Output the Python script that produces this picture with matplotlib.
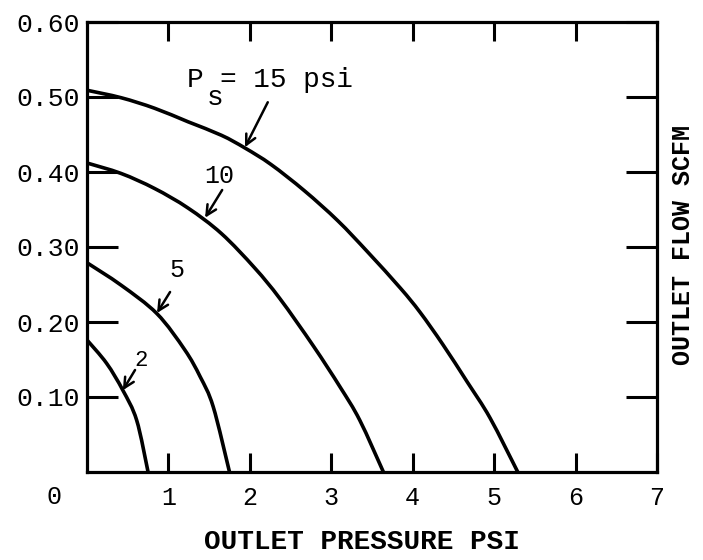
import matplotlib
matplotlib.use("Agg")
import matplotlib.pyplot as plt
from matplotlib.path import Path
from matplotlib.patches import PathPatch

# Outlet flow vs outlet pressure for several supply pressures
p15 = [0, 0.42, 0.83, 1.24, 1.65, 1.94, 2.26, 2.67, 3.08, 3.45, 3.85, 4.09, 4.37, 4.67, 4.95, 5.29]
q15 = [0.509, 0.499, 0.485, 0.467, 0.449, 0.432, 0.410, 0.375, 0.335, 0.293, 0.245, 0.213, 0.170, 0.120, 0.072, 0.0]

p10 = [0, 0.42, 0.83, 1.24, 1.65, 2.06, 2.37, 2.78, 3.11, 3.35, 3.64]
q10 = [0.412, 0.398, 0.378, 0.352, 0.318, 0.272, 0.231, 0.168, 0.113, 0.069, 0.0]

p5 = [0, 0.42, 0.86, 1.20, 1.39, 1.55, 1.75]
q5 = [0.279, 0.249, 0.211, 0.163, 0.127, 0.087, 0.0]

p2 = [0, 0.24, 0.44, 0.61, 0.75]
q2 = [0.176, 0.145, 0.109, 0.069, 0.0]

x_ticks = [1, 2, 3, 4, 5, 6, 7]
x_ticklabels = ["1", "2", "3", "4", "5", "6", "7"]
y_ticks = [0.10, 0.20, 0.30, 0.40, 0.50, 0.60]
y_ticklabels = ["0.10", "0.20", "0.30", "0.40", "0.50", "0.60"]

FONT = "Liberation Mono"
plt.rcParams["font.family"] = FONT


def smooth_path(xs, ys):
    """Catmull-Rom curve through the given points, as cubic Bezier segments."""
    pts = list(zip(xs, ys))
    n = len(pts)
    verts = [pts[0]]
    codes = [Path.MOVETO]
    for i in range(n - 1):
        p0 = pts[i - 1] if i > 0 else pts[i]
        p1 = pts[i]
        p2 = pts[i + 1]
        p3 = pts[i + 2] if i + 2 < n else pts[i + 1]
        c1 = (p1[0] + (p2[0] - p0[0]) / 6, p1[1] + (p2[1] - p0[1]) / 6)
        c2 = (p2[0] - (p3[0] - p1[0]) / 6, p2[1] - (p3[1] - p1[1]) / 6)
        verts += [c1, c2, p2]
        codes += [Path.CURVE4] * 3
    return Path(verts, codes)


fig = plt.figure(figsize=(7.03, 5.6), dpi=100)
ax = fig.add_axes([87 / 703, 1 - 472 / 560, 570 / 703, 450 / 560])

lw = 2.6
for p, q in [(p15, q15), (p10, q10), (p5, q5), (p2, q2)]:
    ax.add_patch(PathPatch(smooth_path(p, q), fill=False, edgecolor="black",
                           lw=lw, capstyle="butt"))

ax.set_xlim(0, 7)
ax.set_ylim(0, 0.6)

for s in ax.spines.values():
    s.set_linewidth(2.3)

ax.set_xticks(x_ticks)
ax.set_xticklabels(x_ticklabels)
ax.set_yticks(y_ticks)
ax.set_yticklabels(y_ticklabels)
ax.tick_params(axis="x", which="both", direction="in", top=True, bottom=True,
               length=14, width=2.2, labelsize=18, pad=10)
ax.tick_params(axis="y", which="both", direction="in", left=True, right=True,
               length=22, width=2.2, labelsize=19, pad=5)

# origin label sits off to the left of the corner
ax.text(-0.4, -0.034, "0", ha="center", va="center", fontsize=18, clip_on=False)

# curve annotations
ax.text(1.23, 0.523, "P", ha="left", va="center", fontsize=20)
ax.text(1.47, 0.499, "s", ha="left", va="center", fontsize=20)
ax.text(1.63, 0.523, "= 15 psi", ha="left", va="center", fontsize=20)
ax.text(1.63, 0.395, "10", ha="center", va="center", fontsize=18)
ax.text(1.10, 0.269, "5", ha="center", va="center", fontsize=18)
ax.text(0.66, 0.148, "2", ha="center", va="center", fontsize=16)

arrow = dict(arrowstyle="->", lw=1.8, color="black", mutation_scale=18,
             shrinkA=0, shrinkB=0)
ax.annotate("", xy=(1.94, 0.433), xytext=(2.22, 0.493), arrowprops=arrow)
ax.annotate("", xy=(1.45, 0.339), xytext=(1.66, 0.376), arrowprops=arrow)
ax.annotate("", xy=(0.86, 0.212), xytext=(1.02, 0.240), arrowprops=arrow)
ax.annotate("", xy=(0.44, 0.109), xytext=(0.59, 0.136), arrowprops=arrow)

fig.text(362 / 703, 1 - 542 / 560, "OUTLET PRESSURE PSI", ha="center", va="center",
         fontsize=20, fontweight="bold")
fig.text(683 / 703, 1 - 245 / 560, "OUTLET FLOW SCFM", ha="center", va="center",
         rotation=90, fontsize=18, fontweight="bold")

fig.savefig("out.png", dpi=100, facecolor="white")
